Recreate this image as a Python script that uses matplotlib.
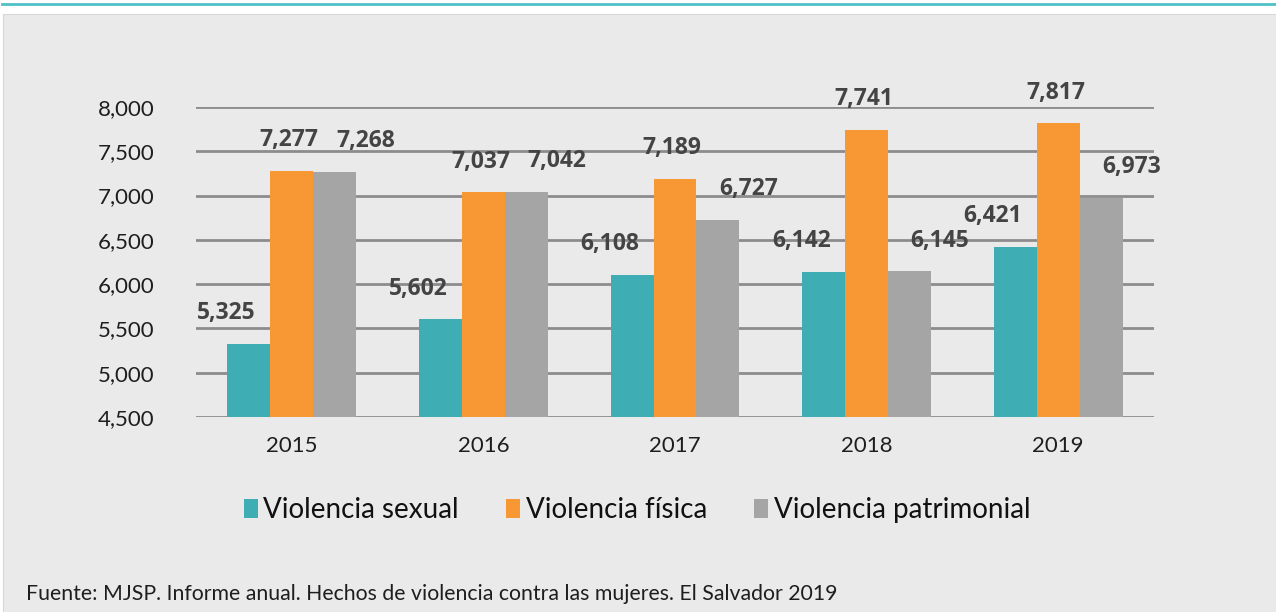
import numpy as np
import matplotlib.pyplot as plt
from matplotlib.patches import Rectangle
from matplotlib.lines import Line2D

plt.rcParams['font.family'] = ['Lato', 'DejaVu Sans']

years = ['2015', '2016', '2017', '2018', '2019']
sexual = [5325, 5602, 6108, 6142, 6421]
fisica = [7277, 7037, 7189, 7741, 7817]
patrimonial = [7268, 7042, 6727, 6145, 6973]

series_names = ['Violencia sexual', 'Violencia física', 'Violencia patrimonial']
colors = ['#3FADB4', '#F79834', '#A5A5A5']
y_ticks = [4500, 5000, 5500, 6000, 6500, 7000, 7500, 8000]

bg = '#EAEAEA'
fig = plt.figure(figsize=(12.76, 6.12), dpi=100)
fig.patch.set_facecolor('white')

# grey panel and teal rule on top
fig.add_artist(Rectangle((3 / 1276, 0), 1 - 3 / 1276, 1 - 14 / 612,
                         transform=fig.transFigure, facecolor=bg,
                         edgecolor='#D8D8D8', linewidth=0.8, zorder=0))
fig.add_artist(Line2D([2 / 1276, 1], [1 - 4.3 / 612] * 2, transform=fig.transFigure,
                      color='#4DC1C6', linewidth=2.0, zorder=1))

ax = fig.add_axes([196 / 1276, 195 / 612, 958 / 1276, 310 / 612])
ax.set_facecolor(bg)

x = np.arange(len(years))
w = 0.224
data = [sexual, fisica, patrimonial]
offsets = [-w, 0, w]
label_dx = [-16, -2, 22]  # points, label shift from bar centre

for vals, off, col, name, dx in zip(data, offsets, colors, series_names, label_dx):
    ax.bar(x + off, np.array(vals) - 4500, bottom=4500, width=w, color=col,
           label=name, zorder=3)
    for xi, v in zip(x + off, vals):
        ax.annotate(f'{v:,}', (xi, v), xytext=(dx, 22), textcoords='offset points',
                    ha='center', va='center', fontsize=16.5, fontweight='bold',
                    family=['Open Sans', 'DejaVu Sans'],
                    color='#444444', zorder=4)

ax.set_xlim(-0.5, len(years) - 0.5)
ax.set_ylim(4500, 8000)
ax.set_yticks(y_ticks)
ax.set_yticklabels([f'{t:,}' for t in y_ticks], fontsize=16, color='#1E1E1E')
ax.set_xticks(x)
ax.set_xticklabels(years, fontsize=16, color='#1E1E1E')
ax.tick_params(axis='y', length=0, pad=30)
ax.tick_params(axis='x', length=0, pad=14)
ax.yaxis.grid(True, color='#8C8C8C', linewidth=2.0, zorder=0)
ax.set_axisbelow(True)
for s in ax.spines.values():
    s.set_visible(False)

leg = fig.legend(loc='center', bbox_to_anchor=(637 / 1276, 1 - 510 / 612), ncol=3,
                 frameon=False, fontsize=20, handlelength=0.5, handleheight=0.7,
                 handletextpad=0.2, columnspacing=1.7)
for t in leg.get_texts():
    t.set_color('#111111')

fig.text(26 / 1276, 1 - 594 / 612,
         'Fuente: MJSP. Informe anual. Hechos de violencia contra las mujeres. El Salvador 2019',
         fontsize=15.3, color='#1E1E1E', va='center', ha='left')

fig.savefig('out.png', dpi=100, facecolor=fig.get_facecolor())
